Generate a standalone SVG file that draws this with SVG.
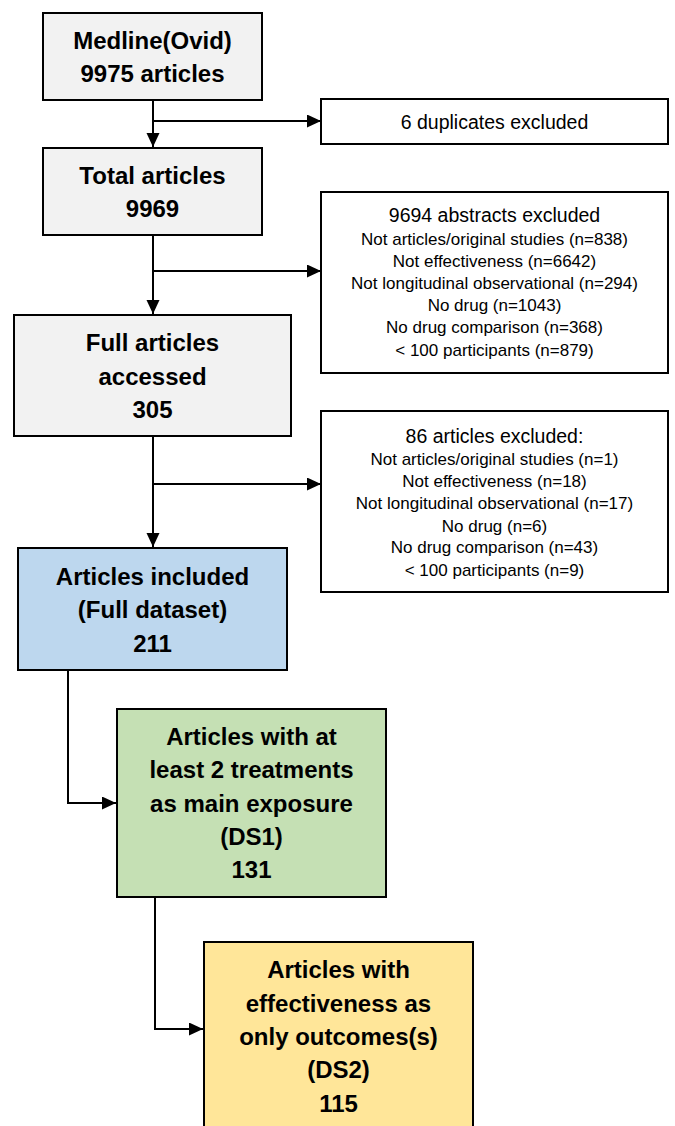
<svg xmlns="http://www.w3.org/2000/svg" width="675" height="1126" viewBox="0 0 675 1126">
<style>
.box{stroke:#000;stroke-width:2}
.gray{fill:#f2f2f2}
.white{fill:#fff}
.blue{fill:#bdd7ee}
.green{fill:#c5e0b4}
.yellow{fill:#ffe699}
.b{font-family:"Liberation Sans",Arial,sans-serif;font-weight:bold;font-size:24px;fill:#000;text-anchor:middle}
.h{font-family:"Liberation Sans",Arial,sans-serif;font-size:19.5px;fill:#000;text-anchor:middle}
.s{font-family:"Liberation Sans",Arial,sans-serif;font-size:17px;fill:#000;text-anchor:middle}
.c{fill:none;stroke:#000;stroke-width:2}
</style>
<defs>
<marker id="arr" markerUnits="userSpaceOnUse" markerWidth="15" markerHeight="14" refX="14" refY="6.5" orient="auto">
<path d="M0,0 L14,6.5 L0,13 z" fill="#000"/>
</marker>
</defs>
<rect width="675" height="1126" fill="#fff"/>
<g id="connectors">
<path class="c" d="M153,101 V147" marker-end="url(#arr)"/>
<path class="c" d="M153,121 H321" marker-end="url(#arr)"/>
<path class="c" d="M153,236 V314" marker-end="url(#arr)"/>
<path class="c" d="M153,271 H321" marker-end="url(#arr)"/>
<path class="c" d="M153,437 V547" marker-end="url(#arr)"/>
<path class="c" d="M153,484 H321" marker-end="url(#arr)"/>
<path class="c" d="M68,671 V803 H116" marker-end="url(#arr)"/>
<path class="c" d="M155,898 V1029 H203" marker-end="url(#arr)"/>
</g>
<g id="medline">
<rect class="box gray" x="43" y="13" width="219" height="87"/>
<text class="b" x="152.5" y="49">Medline(Ovid)</text>
<text class="b" x="152.5" y="82">9975 articles</text>
</g>
<g id="duplicates">
<rect class="box white" x="321" y="99" width="347" height="45"/>
<text class="h" x="494.5" y="129">6 duplicates excluded</text>
</g>
<g id="total">
<rect class="box gray" x="43" y="148" width="219" height="87"/>
<text class="b" x="152.5" y="184">Total articles</text>
<text class="b" x="152.5" y="217">9969</text>
</g>
<g id="abstracts-excluded">
<rect class="box white" x="321" y="192" width="347" height="181"/>
<text class="h" x="494.5" y="222">9694 abstracts excluded</text>
<text class="s" x="494.5" y="245">Not articles/original studies (n=838)</text>
<text class="s" x="494.5" y="267">Not effectiveness (n=6642)</text>
<text class="s" x="494.5" y="289">Not longitudinal observational (n=294)</text>
<text class="s" x="494.5" y="311">No drug (n=1043)</text>
<text class="s" x="494.5" y="333">No drug comparison (n=368)</text>
<text class="s" x="494.5" y="356">&lt; 100 participants (n=879)</text>
</g>
<g id="full-articles">
<rect class="box gray" x="14" y="315" width="277" height="121"/>
<text class="b" x="152.5" y="351">Full articles</text>
<text class="b" x="152.5" y="385">accessed</text>
<text class="b" x="152.5" y="418">305</text>
</g>
<g id="articles-excluded">
<rect class="box white" x="321" y="411" width="347" height="181"/>
<text class="h" x="494.5" y="443">86 articles excluded:</text>
<text class="s" x="494.5" y="465">Not articles/original studies (n=1)</text>
<text class="s" x="494.5" y="487">Not effectiveness (n=18)</text>
<text class="s" x="494.5" y="509">Not longitudinal observational (n=17)</text>
<text class="s" x="494.5" y="532">No drug (n=6)</text>
<text class="s" x="494.5" y="553">No drug comparison (n=43)</text>
<text class="s" x="494.5" y="576">&lt; 100 participants (n=9)</text>
</g>
<g id="included">
<rect class="box blue" x="18" y="548" width="269" height="122"/>
<text class="b" x="152.5" y="585">Articles included</text>
<text class="b" x="152.5" y="618">(Full dataset)</text>
<text class="b" x="152.5" y="652">211</text>
</g>
<g id="ds1">
<rect class="box green" x="117" y="709" width="269" height="188"/>
<text class="b" x="251.5" y="745">Articles with at</text>
<text class="b" x="251.5" y="778">least 2 treatments</text>
<text class="b" x="251.5" y="812">as main exposure</text>
<text class="b" x="251.5" y="845">(DS1)</text>
<text class="b" x="251.5" y="878">131</text>
</g>
<g id="ds2">
<rect class="box yellow" x="204" y="942" width="269" height="200"/>
<text class="b" x="338.5" y="978">Articles with</text>
<text class="b" x="338.5" y="1012">effectiveness as</text>
<text class="b" x="338.5" y="1045">only outcomes(s)</text>
<text class="b" x="338.5" y="1078">(DS2)</text>
<text class="b" x="338.5" y="1112">115</text>
</g>
</svg>
